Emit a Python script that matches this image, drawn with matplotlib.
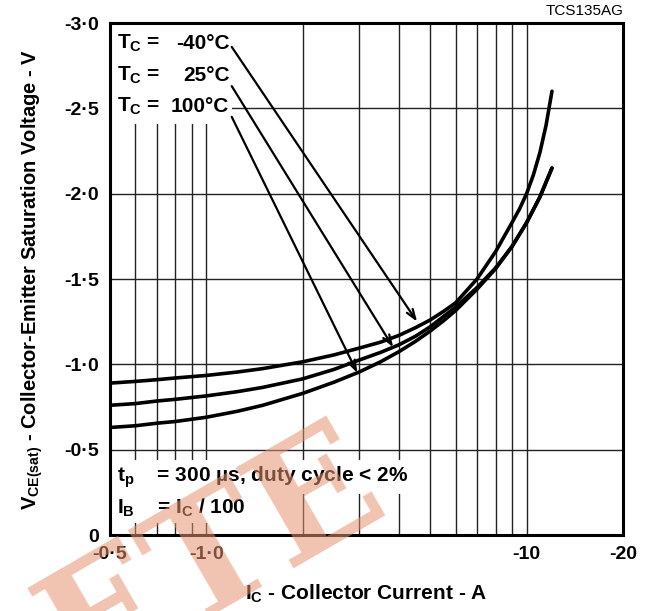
import matplotlib
matplotlib.use("Agg")
import matplotlib.pyplot as plt

# collector current magnitude (A) and |VCE(sat)| (V)
ic_m40 = [0.5, 0.6, 0.7, 0.8, 1.0, 1.25, 1.5, 2, 2.5, 3, 3.5, 4, 4.5, 5, 5.5, 6, 7, 8, 9, 9.5, 10, 10.5, 11, 11.5, 12]
vce_m40 = [0.89, 0.9, 0.91, 0.92, 0.935, 0.955, 0.975, 1.015, 1.055, 1.095, 1.13, 1.17, 1.215, 1.26, 1.31, 1.36, 1.5, 1.66, 1.83, 1.91, 2.0, 2.11, 2.24, 2.4, 2.6]
ic_25 = [0.5, 0.6, 0.7, 0.8, 1.0, 1.25, 1.5, 2, 2.5, 3, 3.5, 4, 4.5, 5, 5.5, 6, 7, 8, 9, 10, 11, 12]
vce_25 = [0.76, 0.77, 0.785, 0.795, 0.815, 0.84, 0.865, 0.915, 0.97, 1.025, 1.07, 1.115, 1.165, 1.22, 1.28, 1.335, 1.45, 1.565, 1.69, 1.83, 1.98, 2.15]
ic_100 = [0.5, 0.6, 0.7, 0.8, 1.0, 1.25, 1.5, 2, 2.5, 3, 3.5, 4, 4.5, 5, 5.5, 6, 7, 8, 9, 10, 11, 12]
vce_100 = [0.63, 0.64, 0.655, 0.665, 0.69, 0.725, 0.76, 0.83, 0.895, 0.955, 1.015, 1.075, 1.135, 1.195, 1.255, 1.315, 1.44, 1.56, 1.69, 1.83, 1.98, 2.15]

xticks = [0.5, 1, 10, 20]
xticklabels = ["-0·5", "-1·0", "-10", "-20"]
yticks = [0, 0.5, 1.0, 1.5, 2.0, 2.5, 3.0]
yticklabels = ["0", "-0·5", "-1·0", "-1·5", "-2·0", "-2·5", "-3·0"]
xgrid = [0.6, 0.7, 0.8, 0.9, 1, 2, 3, 4, 5, 6, 7, 8, 9, 10]
ygrid = [0.5, 1.0, 1.5, 2.0, 2.5]

temps = ["-40°C", "25°C", "100°C"]
arrow_start = [(1.2, 2.86), (1.2, 2.63), (1.2, 2.45)]
arrow_tip = [(4.55, 1.25), (3.83, 1.10), (2.96, 0.95)]

plt.rcParams["font.family"] = "Liberation Sans"
plt.rcParams["font.weight"] = "bold"
plt.rcParams["axes.labelweight"] = "bold"
plt.rcParams["mathtext.fontset"] = "custom"
plt.rcParams["mathtext.rm"] = "Liberation Sans:bold"
plt.rcParams["mathtext.it"] = "Liberation Sans:bold"
plt.rcParams["mathtext.bf"] = "Liberation Sans:bold"
plt.rcParams["mathtext.default"] = "rm"

fs = 15

fig = plt.figure(figsize=(6.51, 6.11), dpi=100)
ax = fig.add_axes([110 / 651, 1 - 535 / 611, 513 / 651, 512 / 611])
ax.set_xscale("log")
ax.set_xlim(0.5, 20)
ax.set_ylim(0, 3)

for x in xgrid:
    ax.axvline(x, color="#222222", lw=1.0, zorder=1)
for y in ygrid:
    ax.axhline(y, color="#222222", lw=1.0, zorder=1)

for ic, v in [(ic_m40, vce_m40), (ic_25, vce_25), (ic_100, vce_100)]:
    ax.plot(ic, v, color="black", lw=2.6, solid_capstyle="round", zorder=3)

for s, t in zip(arrow_start, arrow_tip):
    ax.annotate("", xy=t, xytext=s, zorder=4,
                arrowprops=dict(arrowstyle="->,head_length=0.7,head_width=0.25",
                                color="black", lw=1.6, shrinkA=0, shrinkB=0))

# white box behind the temperature labels hides the grid
ax.fill_between([0.5, 1.205], 2.41, 3.0, color="white", lw=0, zorder=2)
for i, t in enumerate(temps):
    y = 2.88 - 0.185 * i
    ax.text(0.527, y, "T$_\\mathrm{C}$ =", fontsize=fs, va="center", ha="left", zorder=5)
    ax.text(1.18, y, t, fontsize=fs, va="center", ha="right", zorder=5)

ax.text(0.527, 0.34, "t$_\\mathrm{p}$    = 300 µs, duty cycle < 2%", fontsize=fs, va="center",
        ha="left", zorder=5, bbox=dict(facecolor="white", edgecolor="none", pad=3))
ax.text(0.527, 0.16, "I$_\\mathrm{B}$    = I$_\\mathrm{C}$ / 100", fontsize=fs, va="center",
        ha="left", zorder=5, bbox=dict(facecolor="white", edgecolor="none", pad=3))

ax.set_xticks(xticks)
ax.set_xticklabels(xticklabels, fontweight="bold")
ax.set_xticks([], minor=True)
ax.set_yticks(yticks)
ax.set_yticklabels(yticklabels, fontweight="bold")
ax.tick_params(length=0, labelsize=14, pad=8)
for sp in ax.spines.values():
    sp.set_linewidth(2.2)
    sp.set_zorder(6)

ax.set_xlabel("I$_\\mathrm{C}$ - Collector Current - A", fontsize=fs, labelpad=14)
ax.set_ylabel("V$_\\mathrm{CE(sat)}$ - Collector-Emitter Saturation Voltage - V", fontsize=14.5, labelpad=14)

fig.text(624 / 651, 1 - 11 / 611, "TCS135AG", fontsize=11, fontweight="normal", ha="right", va="center")

# watermark
fig.text(392 / 651, 1 - 508 / 611, "OBSOLETE", fontsize=115, family="DejaVu Serif",
         fontweight="bold", color=(230 / 255, 147 / 255, 113 / 255), alpha=0.55,
         rotation=30, rotation_mode="anchor", ha="right", va="baseline", zorder=10)

fig.savefig("out.png", dpi=100)
